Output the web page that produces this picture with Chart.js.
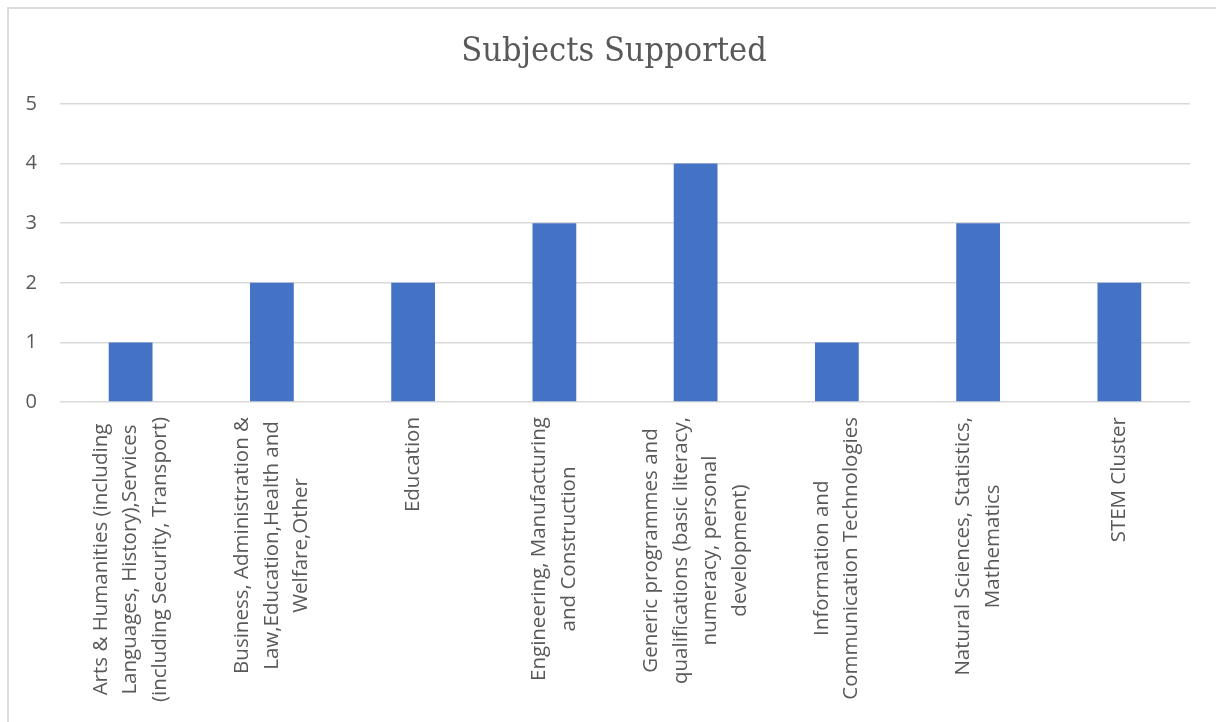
<!DOCTYPE html>
<html>
<head>
<meta charset="utf-8">
<script src="https://cdn.jsdelivr.net/npm/chart.js@4/dist/chart.umd.min.js"></script>
<style>
  html, body { margin: 0; padding: 0; background: #ffffff; overflow: hidden; }
  #frame {
    position: absolute; left: 7px; top: 7px; width: 1240px; height: 760px;
    border-left: 2px solid #dcdcdc; border-top: 2px solid #dcdcdc;
  }
  #chart { position: absolute; left: 0; top: 0; }
</style>
</head>
<body>
<div id="frame"></div>
<canvas id="chart" width="1228" height="722"></canvas>
<script>
// categories, each split into the lines shown under the axis
const categories = [
  ['Arts & Humanities (including', 'Languages, History),Services', '(including Security, Transport)'],
  ['Business, Administration &', 'Law,Education,Health and', 'Welfare,Other'],
  ['Education'],
  ['Engineering, Manufacturing', 'and Construction'],
  ['Generic programmes and', 'qualifications (basic literacy,', 'numeracy, personal', 'development)'],
  ['Information and', 'Communication Technologies'],
  ['Natural Sciences, Statistics,', 'Mathematics'],
  ['STEM Cluster']
];
const counts = [1, 2, 2, 3, 4, 1, 3, 2];
const yTicks = [0, 1, 2, 3, 4, 5];

const textGray = '#595959';
const gridGray = '#d9d9d9';

// Excel-style category labels: rotated, lines centred on each other, block hung from the axis
const categoryLabels = {
  id: 'categoryLabels',
  afterDraw(chart) {
    const ctx = chart.ctx;
    const xScale = chart.scales.x;
    const lineHeight = 29.5;
    ctx.save();
    ctx.font = '20.5px "Open Sans"';
    ctx.fillStyle = textGray;
    ctx.textAlign = 'center';
    ctx.textBaseline = 'middle';
    categories.forEach((lines, i) => {
      const x = xScale.getPixelForValue(i);
      const maxW = Math.max(...lines.map(l => ctx.measureText(l).width));
      const top = xScale.top + 15;
      ctx.save();
      ctx.translate(x, top + maxW / 2);
      ctx.rotate(-Math.PI / 2);
      lines.forEach((line, j) => {
        const offset = (j - (lines.length - 1) / 2) * lineHeight;
        ctx.fillText(line, 0, offset);
      });
      ctx.restore();
    });
    ctx.restore();
  }
};

new Chart(document.getElementById('chart'), {
  type: 'bar',
  data: {
    labels: categories,
    datasets: [{
      data: counts,
      backgroundColor: '#4472c4',
      borderWidth: 0,
      barPercentage: 0.31,
      categoryPercentage: 1
    }]
  },
  options: {
    responsive: false,
    animation: false,
    layout: { padding: 0 },
    plugins: {
      legend: { display: false },
      tooltip: { enabled: false },
      title: {
        display: true,
        text: 'Subjects Supported',
        color: textGray,
        font: { family: '"DejaVu Serif Condensed", "DejaVu Serif"', size: 34, weight: 'normal', lineHeight: 1.2 },
        padding: { top: 32, bottom: 31.2 }
      }
    },
    scales: {
      x: {
        grid: { display: false },
        border: { display: false },
        ticks: { display: false },
        afterFit(scale) { scale.height = 320; }
      },
      y: {
        min: 0,
        max: 5,
        afterBuildTicks(scale) { scale.ticks = yTicks.map(v => ({ value: v })); },
        grid: { color: gridGray, lineWidth: 1.5, drawTicks: false },
        border: { display: false },
        ticks: {
          color: textGray,
          padding: 23,
          font: { family: '"Open Sans"', size: 20 }
        },
        afterFit(scale) { scale.width = 60; }
      },
      // empty right margin so the plot ends where the reference does
      yRight: {
        position: 'right',
        grid: { display: false },
        border: { display: false },
        ticks: { display: false },
        afterFit(scale) { scale.width = 38; }
      }
    }
  },
  plugins: [categoryLabels]
});
</script>
</body>
</html>
